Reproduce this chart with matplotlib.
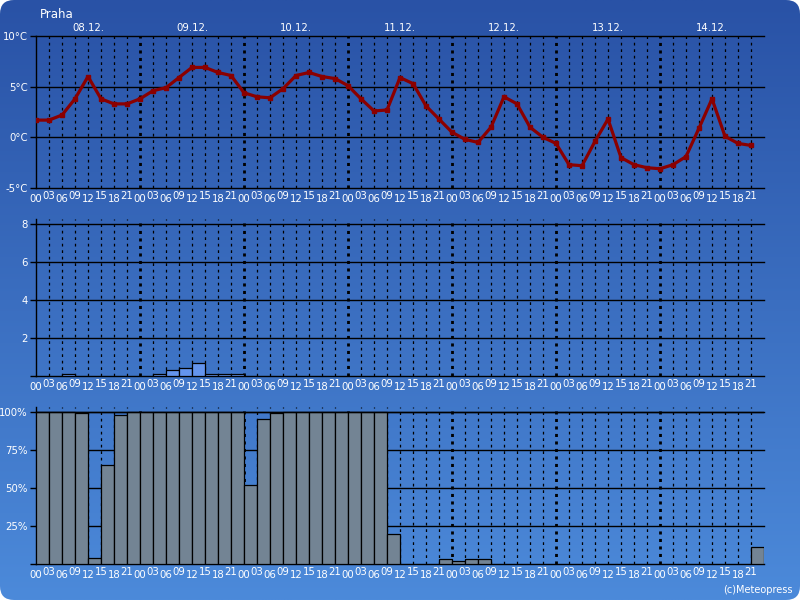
import numpy as np
import matplotlib
matplotlib.use('Agg')
from matplotlib import pyplot as plt
from matplotlib.patches import FancyBboxPatch
import matplotlib.transforms as mtransforms

# data: 3-hourly forecast, 08.12. 00h .. 14.12. 21h
days = ['08.12.', '09.12.', '10.12.', '11.12.', '12.12.', '13.12.', '14.12.']
hours = ['00', '03', '06', '09', '12', '15', '18', '21']

temperature = [1.7, 1.7, 2.2, 3.8, 6.0, 3.8, 3.3, 3.3,
               3.8, 4.6, 4.9, 5.9, 6.9, 6.9, 6.4, 6.1,
               4.4, 4.0, 3.9, 4.8, 6.1, 6.4, 6.0, 5.8,
               5.1, 3.8, 2.6, 2.7, 5.9, 5.3, 3.1, 1.8,
               0.5, -0.2, -0.5, 1.0, 4.0, 3.3, 1.0, 0.0,
               -0.6, -2.7, -2.8, -0.4, 1.8, -2.0, -2.7, -3.0,
               -3.1, -2.7, -1.9, 0.9, 3.8, 0.1, -0.6, -0.8]

precipitation = [0, 0, 0.1, 0, 0, 0, 0, 0,
                 0, 0.1, 0.3, 0.4, 0.7, 0.1, 0.1, 0.1,
                 0, 0, 0, 0, 0, 0, 0, 0,
                 0, 0, 0, 0, 0, 0, 0, 0,
                 0, 0, 0, 0, 0, 0, 0, 0,
                 0, 0, 0, 0, 0, 0, 0, 0,
                 0, 0, 0, 0, 0, 0, 0, 0]

clouds = [100, 100, 100, 99, 4, 65, 98, 100,
          100, 100, 100, 100, 100, 100, 100, 100,
          52, 95, 99, 100, 100, 100, 100, 100,
          100, 100, 100, 20, 0, 0, 0, 3,
          2, 3, 3, 0, 0, 0, 0, 0,
          0, 0, 0, 0, 0, 0, 0, 0,
          0, 0, 0, 0, 0, 0, 0, 11]

n = len(temperature)
x = np.arange(n)
hour_labels = [hours[i % 8] for i in range(n)]

fig = plt.figure(figsize=(8, 6), dpi=100, facecolor='white')

# background with vertical gradient and rounded corners
bg = fig.add_axes([0, 0, 1, 1], zorder=-10)
bg.set_xlim(0, 800)
bg.set_ylim(600, 0)
bg.axis('off')
c_top = np.array([0x29, 0x52, 0xa6]) / 255
c_bot = np.array([0x4c, 0x8a, 0xda]) / 255
t = np.linspace(0, 1, 256)[:, None]
grad = (c_top * (1 - t) + c_bot * t)[:, None, :].repeat(2, axis=1)
im = bg.imshow(grad, extent=(0, 800, 600, 0), aspect='auto', interpolation='bilinear')
clip = FancyBboxPatch((0, 0), 800, 600, boxstyle='round,pad=0,rounding_size=14',
                      transform=bg.transData, facecolor='none', edgecolor='none')
bg.add_patch(clip)
im.set_clip_path(clip)

fig.text(40 / 800, 1 - 15 / 600, 'Praha', color='white', fontsize=8.5, va='center', ha='left')
fig.text(793 / 800, 1 - 590 / 600, '(c)Meteopress', color='white', fontsize=7, va='center', ha='right')


def make_panel(rect, ylim, yticks, ylabels, hgrid):
    ax = fig.add_axes(rect)
    ax.patch.set_alpha(0)
    ax.set_xlim(0, n)
    ax.set_ylim(*ylim)
    for s in ['top', 'right', 'bottom']:
        ax.spines[s].set_visible(False)
    ax.spines['left'].set_color('black')
    ax.spines['left'].set_linewidth(1)
    ax.set_xticks([])
    ax.set_yticks(yticks)
    ax.set_yticklabels(ylabels)
    ax.tick_params(axis='y', length=4, width=1, color='black', direction='out',
                   pad=2, labelsize=7.3, labelcolor='white')
    for i in range(1, n):
        if i % 8 == 0:
            ax.axvline(i, color='black', lw=2.0, linestyle=(0, (1.1, 1.6)), zorder=1)
        else:
            ax.axvline(i, color='black', lw=0.9, linestyle=(0, (2.2, 3.0)), zorder=1)
    for yv in hgrid:
        ax.axhline(yv, color='black', lw=1, zorder=1.5, clip_on=False)
    trans = mtransforms.blended_transform_factory(ax.transData, ax.transAxes)
    for i, lab in enumerate(hour_labels):
        off = -4 if i % 2 == 0 else -2
        ax.annotate(lab, (i, 0), xycoords=trans, xytext=(0, off), textcoords='offset points',
                    ha='center', va='top', color='white', fontsize=7.3)
    return ax


# temperature
ax1 = make_panel([36 / 800, (600 - 188) / 600, 728 / 800, 152 / 600], (-5, 10),
                 [-5, 0, 5, 10], ['-5°C', '0°C', '5°C', '10°C'], [-5, 0, 5, 10])
ax1.plot(x, temperature, color='#8b0000', lw=2.3, marker='s', markersize=3.5, zorder=3)
trans1 = mtransforms.blended_transform_factory(ax1.transData, ax1.transAxes)
for d, day in enumerate(days):
    ax1.annotate(day, (d * 8 + 4, 1), xycoords=trans1, xytext=(0, 2), textcoords='offset points',
                 ha='center', va='bottom', color='white', fontsize=7.3)

# precipitation
ax2 = make_panel([36 / 800, (600 - 376) / 600, 728 / 800, 157 / 600], (0, 8.26),
                 [0, 2, 4, 6, 8], ['', '2', '4', '6', '8'], [0, 2, 4, 6, 8])
p = np.array(precipitation)
wet = np.nonzero(p)[0]
ax2.bar(x[wet], p[wet], width=1, align='edge', color='#6495ed', edgecolor='black', lw=0.9, zorder=3)

# cloud cover
ax3 = make_panel([36 / 800, 36 / 600, 728 / 800, 157 / 600], (0, 103),
                 [0, 25, 50, 75, 100], ['', '25%', '50%', '75%', '100%'], [0, 25, 50, 75, 100])
c = np.array(clouds)
cl = np.nonzero(c)[0]
ax3.bar(x[cl], c[cl], width=1, align='edge', color='#738494', edgecolor='black', lw=0.9, zorder=3)
ax3.axhline(100, color='black', lw=1, zorder=4)

fig.savefig('out.png', dpi=100, facecolor='white')
